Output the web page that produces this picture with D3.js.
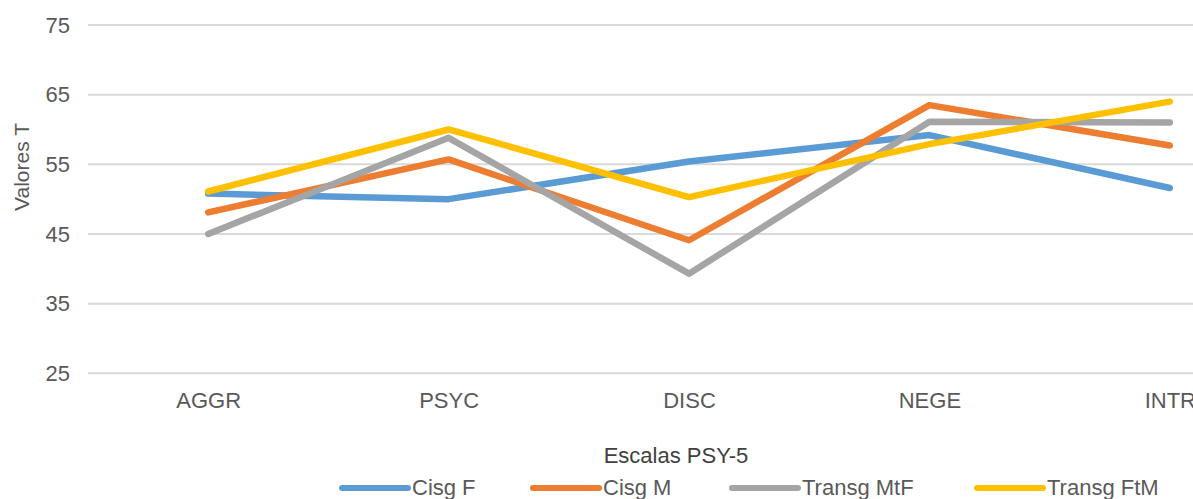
<!DOCTYPE html>
<html>
<head>
<meta charset="utf-8">
<script src="https://cdn.jsdelivr.net/npm/d3@7"></script>
<style>
  html, body { margin: 0; padding: 0; background: #fff; overflow: hidden; }
  svg { display: block; }
  text { font-family: "Liberation Sans", Arial, sans-serif; fill: #595959; }
</style>
</head>
<body>
<svg id="chart" width="1193" height="499"></svg>
<script>
// PSY-5 scales (x categories)
const categories = ["AGGR", "PSYC", "DISC", "NEGE", "INTR"];

// Mean T scores per group
const cisgF     = [50.8, 50.0, 55.4, 59.2, 51.6];
const cisgM     = [48.1, 55.7, 44.1, 63.5, 57.7];
const transgMtF = [45.0, 58.8, 39.3, 61.1, 61.0];
const transgFtM = [51.1, 60.0, 50.3, 57.9, 64.0];

const seriesNames = ["Cisg F", "Cisg M", "Transg MtF", "Transg FtM"];
const seriesValues = [cisgF, cisgM, transgMtF, transgFtM];
const seriesColors = ["#5B9BD5", "#ED7D31", "#A5A5A5", "#FFC000"];

const yTicks = [25, 35, 45, 55, 65, 75];

const svg = d3.select("#chart");

// Plot area (right part runs past the visible width)
const plotLeft = 88, plotRight = 1290, plotTop = 25, plotBottom = 373.3;

const x = d3.scalePoint().domain(categories).range([plotLeft, plotRight]).padding(0.5);
const y = d3.scaleLinear().domain([25, 75]).range([plotBottom, plotTop]);

// Horizontal gridlines
svg.append("g")
  .selectAll("line")
  .data(yTicks)
  .join("line")
  .attr("x1", plotLeft).attr("x2", plotRight)
  .attr("y1", d => y(d)).attr("y2", d => y(d))
  .attr("stroke", "#d9d9d9")
  .attr("stroke-width", 2);

// Y axis labels
const yAxis = d3.axisLeft(y).tickValues(yTicks).tickSize(0).tickPadding(18);
const gy = svg.append("g").attr("transform", `translate(${plotLeft},0)`).call(yAxis);
gy.select(".domain").remove();
gy.selectAll("text")
  .attr("font-size", 22)
  .attr("font-family", "Liberation Sans, Arial, sans-serif")
  .attr("fill", "#595959");

// X axis labels
const xAxis = d3.axisBottom(x).tickSize(0).tickPadding(0);
const gx = svg.append("g").attr("transform", `translate(0,${plotBottom})`).call(xAxis);
gx.select(".domain").remove();
gx.selectAll("text")
  .attr("dy", null)
  .attr("y", 35)
  .attr("font-size", 22)
  .attr("font-family", "Liberation Sans, Arial, sans-serif")
  .attr("fill", "#595959");

// Axis titles
svg.append("text")
  .attr("transform", "translate(29,167) rotate(-90)")
  .attr("text-anchor", "middle")
  .attr("font-size", 21)
  .text("Valores T");

svg.append("text")
  .attr("x", 676).attr("y", 463)
  .attr("text-anchor", "middle")
  .attr("font-size", 22)
  .style("fill", "#404040")
  .text("Escalas PSY-5");

// Series lines
const line = d3.line()
  .x((d, i) => x(categories[i]))
  .y(d => y(d));

svg.append("g")
  .selectAll("path")
  .data(seriesValues)
  .join("path")
  .attr("d", d => line(d))
  .attr("fill", "none")
  .attr("stroke", (d, i) => seriesColors[i])
  .attr("stroke-width", 6.5)
  .attr("stroke-linejoin", "round")
  .attr("stroke-linecap", "round");

// Legend
const legendX = [342, 533, 732, 977];
const legend = svg.append("g")
  .selectAll("g")
  .data(seriesNames)
  .join("g")
  .attr("transform", (d, i) => `translate(${legendX[i]},488)`);

legend.append("line")
  .attr("x1", 0).attr("x2", 66)
  .attr("y1", 0).attr("y2", 0)
  .attr("stroke", (d, i) => seriesColors[i])
  .attr("stroke-width", 6)
  .attr("stroke-linecap", "round");

legend.append("text")
  .attr("x", 70).attr("y", 7)
  .attr("font-size", 22)
  .text(d => d);
</script>
</body>
</html>
